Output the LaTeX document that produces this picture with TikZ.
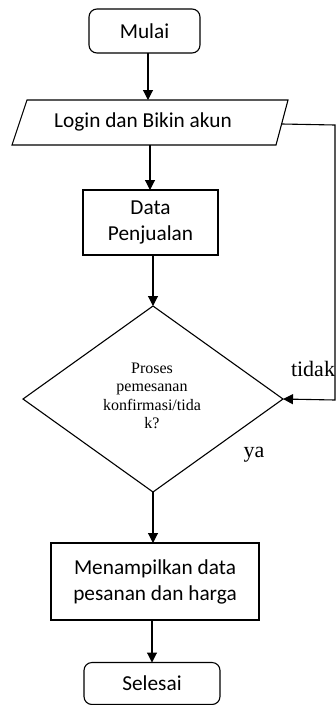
\documentclass[tikz,border=0pt]{standalone}
\usepackage{fontspec}
\setmainfont{Carlito}
\newfontfamily\serifx{Liberation Serif}
\usetikzlibrary{shapes.geometric,arrows.meta}
\begin{document}
\begin{tikzpicture}[x=1pt,y=1pt,
  line width=1.1pt,
  every node/.style={inner sep=0pt,outer sep=0pt},
  terminal/.style={draw,rounded corners=8pt,font=\fontsize{21.3}{26}\selectfont},
  procbox/.style={draw,align=center,font=\fontsize{21.3}{26}\selectfont},
  decision/.style={draw,diamond},
  flow/.style={-{Triangle[length=10pt,width=10pt]}},
  lbl/.style={font=\serifx\fontsize{22}{26}\selectfont}]
\useasboundingbox (0,0) rectangle (336,-705);
\node[terminal,minimum width=111pt,minimum height=44pt] (mulai) at (144.5,-31) {Mulai};
% parallelogram
\draw (27,-100) -- (288,-100) -- (276,-145) -- (12,-145) -- cycle;
\node[font=\fontsize{21.3}{26}\selectfont] (login) at (143,-122) {Login dan Bikin akun};
\coordinate (loginT) at (148,-100);
\coordinate (loginB) at (150,-145);
\coordinate (loginR) at (282,-124);
\node[procbox,minimum width=135pt,minimum height=65pt] (data) at (150.5,-222.5) {Data\\Penjualan};
\node[decision,minimum width=260pt,minimum height=186pt] (dia) at (153,-399) {};
\node[font=\serifx\fontsize{16}{18.5}\selectfont,align=center] (diatext) at (152,-396) {Proses\\pemesanan\\konfirmasi/tida\\k?};
\node[procbox,minimum width=208pt,minimum height=77pt] (tampil) at (155,-581.5) {Menampilkan data\\pesanan dan harga};
\node[terminal,minimum width=136pt,minimum height=42pt] (selesai) at (152,-683.5) {Selesai};
\coordinate (c1) at (335,-125);
\coordinate (c2) at (335,-400);
\node[lbl,anchor=west] (tidak) at (291,-369) {tidak};
\node[lbl] (ya) at (254,-455) {ya};
\draw[flow] (mulai.south -| loginT) -- (loginT);
\draw[flow] (loginB) -- (data.north -| loginB);
\draw[flow] (data.south -| dia.north) -- (dia.north);
\draw[flow] (dia.south) -- (tampil.north -| dia.south);
\draw[flow] (tampil.south -| selesai.north) -- (selesai.north);
\draw[flow] (loginR) -- (c1) -- (c2) -- (dia.east);
\end{tikzpicture}
\end{document}
